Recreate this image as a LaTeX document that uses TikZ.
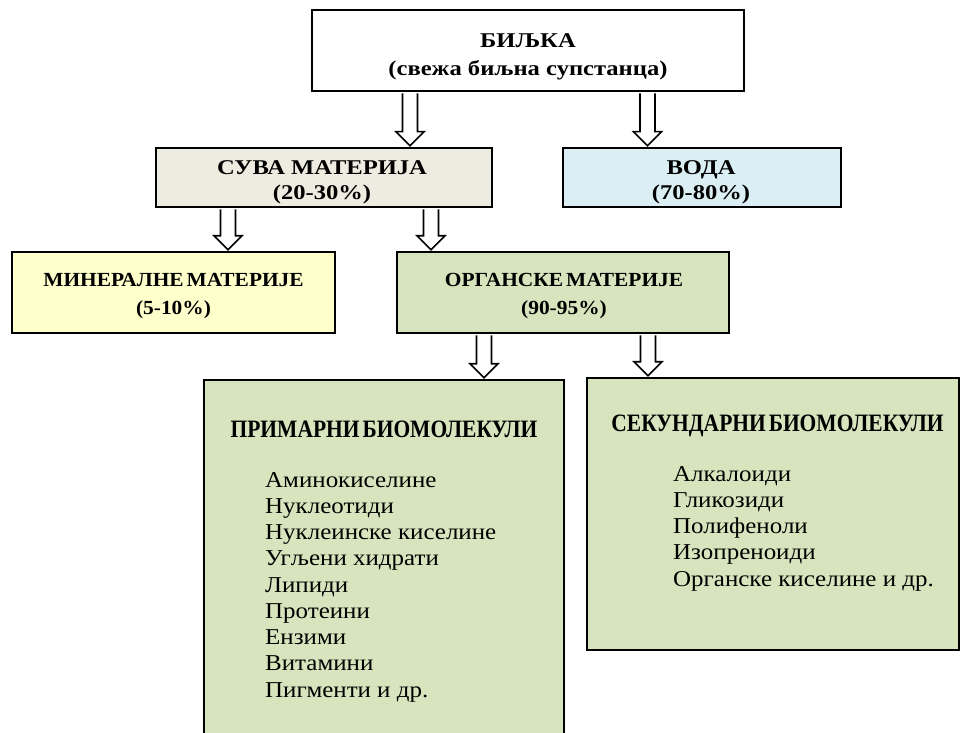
\documentclass[tikz,border=0pt]{standalone}
\usepackage{fontspec}
\setmainfont{Liberation Serif}
\newfontfamily\topfont{Liberation Serif}[FakeStretch=1.17]
\newfontfamily\midfont{Liberation Serif}[FakeStretch=1.07, WordSpace=0.55]
\newfontfamily\headfont{Liberation Serif}[FakeStretch=0.86, WordSpace=0.55]
\newfontfamily\listfont{Liberation Serif}[FakeStretch=1.1]
\usetikzlibrary{calc}
\definecolor{dryc}{HTML}{EEECE1}
\definecolor{waterc}{HTML}{DAEEF3}
\definecolor{minc}{HTML}{FFFFCC}
\definecolor{orgc}{HTML}{D7E4BD}
\tikzset{
  box/.style={draw=black, line width=2.6pt, rectangle, inner sep=0pt},
  boxtxt/.style={inner sep=0pt, align=center, anchor=north},
  toptxt/.style={boxtxt, font=\topfont\fontsize{21}{28}\selectfont\bfseries},
  smalltxt/.style={boxtxt, font=\topfont\fontsize{21}{25}\selectfont\bfseries},
  midtxt/.style={boxtxt, font=\midfont\fontsize{20}{28}\selectfont\bfseries},
  headtxt/.style={inner sep=0pt, anchor=base, font=\headfont\fontsize{25}{28}\selectfont\bfseries},
  listtxt/.style={inner sep=0pt, align=left, anchor=north west, font=\listfont\fontsize{22.7}{26.25}\selectfont},
  harrow/.style={draw=black, line width=1.6pt, fill=white, line join=miter}
}
\newcommand\hollowarrow[3]{%
  \draw[harrow] let \p1=(#2.south), \p2=(#3.north) in
    ({#1pt-7.5pt},{\y1-1pt}) -- ({#1pt-7.5pt},{\y2+15pt}) -- ({#1pt-14pt},{\y2+15pt}) --
    ({#1pt},{\y2+1pt}) -- ({#1pt+14pt},{\y2+15pt}) -- ({#1pt+7.5pt},{\y2+15pt}) --
    ({#1pt+7.5pt},{\y1-1pt});
}
\begin{document}
\begin{tikzpicture}[x=1pt,y=-1pt]
\useasboundingbox[fill=white] (0,0) rectangle (961,733);
\begin{scope}
\clip (0,0) rectangle (961,733);
% boxes
\node[box, fill=white, minimum width=432, minimum height=81] (plant) at (528,50.5) {};
\node[box, fill=dryc, minimum width=336, minimum height=59] (dry) at (324,177.5) {};
\node[box, fill=waterc, minimum width=278, minimum height=59] (water) at (702,177.5) {};
\node[box, fill=minc, minimum width=323, minimum height=81] (mineral) at (173.5,292.5) {};
\node[box, fill=orgc, minimum width=332, minimum height=81] (organic) at (563,292.5) {};
\node[box, fill=orgc, minimum width=360, minimum height=380] (primary) at (384,570) {};
\node[box, fill=orgc, minimum width=372, minimum height=272] (secondary) at (773,514) {};
% box texts
\node[toptxt] (planttxt) at (528,33) {БИЉКА\\(свежа биљна супстанца)};
\node[smalltxt] (drytxt) at (322,160) {СУВА МАТЕРИЈА\\(20-30\%)};
\node[smalltxt] (watertxt) at (701,160) {ВОДА\\(70-80\%)};
\node[midtxt] (mineraltxt) at (173.5,273) {МИНЕРАЛНЕ МАТЕРИЈЕ\\(5-10\%)};
\node[midtxt] (organictxt) at (564,273) {ОРГАНСКЕ МАТЕРИЈЕ\\(90-95\%)};

\node[headtxt] (primhead) at (384,437) {ПРИМАРНИ БИОМОЛЕКУЛИ};
\node[listtxt] (primlist) at (265,472) {Аминокиселине\\Нуклеотиди\\Нуклеинске киселине\\Угљени хидрати\\Липиди\\Протеини\\Ензими\\Витамини\\Пигменти и др.};
\node[headtxt] (sechead) at (777.5,431) {СЕКУНДАРНИ БИОМОЛЕКУЛИ};
\node[listtxt] (seclist) at (673,466) {Алкалоиди\\Гликозиди\\Полифеноли\\Изопреноиди\\Органске киселине и др.};

\hollowarrow{410}{plant}{dry}
\hollowarrow{647.5}{plant}{water}
\hollowarrow{228}{dry}{mineral}
\hollowarrow{431}{dry}{organic}
\hollowarrow{484}{organic}{primary}
\hollowarrow{648}{organic}{secondary}
\end{scope}
\end{tikzpicture}
\end{document}
